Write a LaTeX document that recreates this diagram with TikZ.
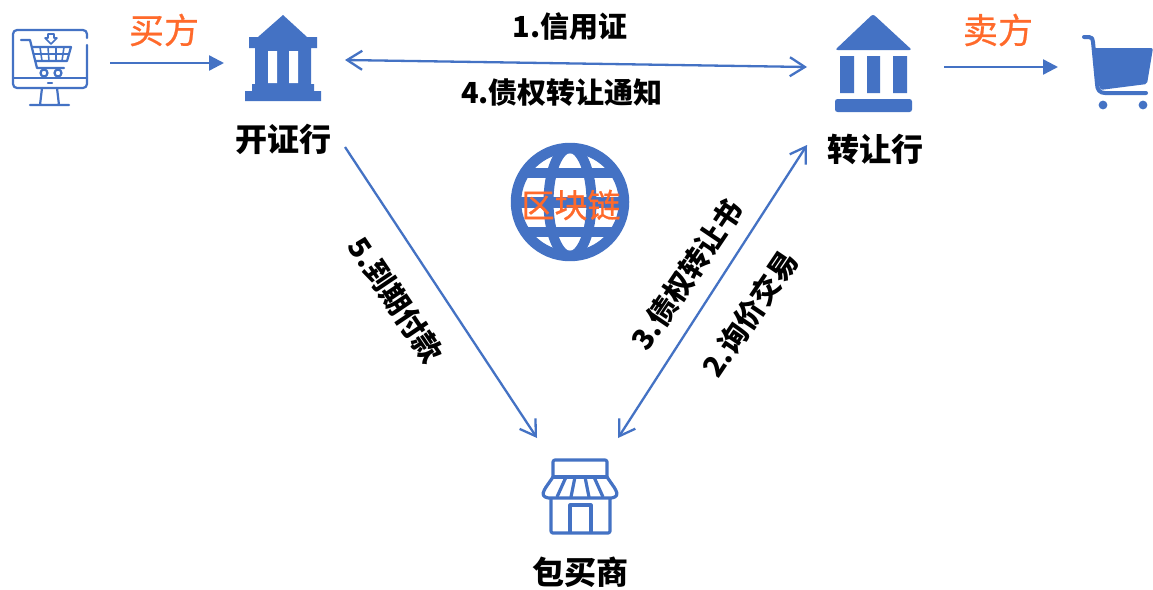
\documentclass[tikz,border=0pt]{standalone}
\usepackage{fontspec}
\usepackage{tikz}
\usetikzlibrary{arrows.meta}
\newfontfamily\cjk{Noto Sans CJK SC}
\newfontfamily\cjktag[FakeBold=0.6]{Noto Sans CJK SC}
\definecolor{iconblue}{HTML}{4472C4}
\definecolor{tagorange}{HTML}{FF6A2B}

\begin{document}
\begin{tikzpicture}[x=1pt,y=-1pt,line join=round,
    barb/.tip={Straight Barb[length=15pt,width=19pt,line width=2.3pt]},
    iconbox/.style={minimum width=#1,inner sep=0pt,outer sep=0pt},
    party/.style={font=\cjk\bfseries\fontsize{32}{34}\selectfont,inner sep=0pt},
    tag/.style={font=\cjktag\fontsize{35}{37}\selectfont,text=tagorange,inner sep=0pt},
    step label/.style={font=\cjk\bfseries\fontsize{29}{31}\selectfont,inner sep=0pt},
    link/.style={draw=iconblue,line width=2.3pt},
    flow/.style={draw=iconblue,line width=2.4pt,-{Triangle[length=15pt,width=15pt]}},
    thin icon/.style={draw=iconblue,line width=2.2pt,line cap=round}]
       \useasboundingbox (0,0) rectangle (1153,589);
       \fill[white] (0,0) rectangle (1153,589);

       % invisible boxes round the icons, the connectors start at their anchors
       \node[iconbox=121pt] (pc)    at (49.5,63)  {};
       \node[iconbox=121pt,minimum height=174pt] (bankA) at (284.5,60) {};
       \node[iconbox=137pt,minimum height=156pt] (bankB) at (875.5,67) {};
       \node[iconbox=114pt] (cart)  at (1115,67)  {};
       \node[iconbox=81pt,minimum height=114pt]  (shop)  at (577.5,495) {};

       % computer with cart
       \draw[thin icon,rounded corners=4pt] (87,38) -- (87,30) -- (13,30) -- (13,88) -- (87,88) -- (87,45);
       \draw[thin icon] (13,78) -- (87,78);
       \draw[thin icon] (48,83) -- (52,83);
       \draw[thin icon] (42,88) -- (40,105) (57,88) -- (59,105) (30,105) -- (69,105);
       \draw[thin icon] (21,40) -- (30,40) -- (37,68) -- (64,68);
       \draw[thin icon] (32,47) -- (71,47) -- (67,61) -- (35.5,61);
       \draw[iconblue,line width=1.6pt] (33.5,54) -- (69,54) (40,47) -- (42,61) (48,47) -- (49,61)
             (56,47) -- (56,61) (64,47) -- (62,61);
       \draw[thin icon] (44,73) circle (3.5) (58,73) circle (3.5);
       \draw[iconblue,line width=1.6pt] (48,34) -- (54,34) -- (54,38) -- (57,38) -- (51,44) -- (45,38) -- (48,38) -- cycle;

       % issuing bank
       \fill[iconblue] (283,15) -- (307,37) -- (317,37) -- (317,48) -- (311,48) -- (311,84) -- (314,84) -- (314,91)
             -- (321,91) -- (321,101) -- (245,101) -- (245,91) -- (252,91) -- (252,84) -- (255,84) -- (255,48)
             -- (249,48) -- (249,37) -- (258,37) -- cycle;
       \fill[white] (268,51) rectangle (277,83) (289,51) rectangle (298,83);

       % transferring bank
       \fill[iconblue,rounded corners=2.5pt] (873,14) -- (912,50) -- (835,50) -- cycle;
       \fill[iconblue] (840,56) rectangle (854,93) (867,56) rectangle (880,93) (893,56) rectangle (907,93);
       \fill[iconblue,rounded corners=2.5pt] (835,99) rectangle (912,112);

       % plain cart
       \draw[iconblue,line width=4pt,line cap=round] (1084,37) -- (1089,37) .. controls (1092,37) and (1093,39) .. (1093,42)
             -- (1097,84) .. controls (1097,90) and (1100,93) .. (1105,93) -- (1146,93);
       \fill[iconblue,rounded corners=2pt] (1092,48) -- (1153,48) -- (1147,84) -- (1100,90) -- cycle;
       \fill[iconblue] (1103,105) circle (4.4) (1143,105) circle (4.4);

       % globe
       \draw[iconblue,line width=10.5pt] (570,202) circle (54);
       \draw[iconblue,line width=10pt] (570,202) ellipse (21.5 and 54);
       \draw[iconblue,line width=10.5pt] (525,173) -- (615,173) (516,202.5) -- (624,202.5) (525,232) -- (615,232);

       % shop
       \begin{scope}[iconblue,line width=3.2pt]
       \draw[rounded corners=2pt] (553,477) -- (553,460) -- (607,460) -- (607,477);
       \draw (553,477) -- (607,477);
       \draw[rounded corners=3pt] (553,477) -- (544,490) .. controls (542,497) and (548,498) .. (552,498) -- (608,498)
             .. controls (612,498) and (618,497) .. (616,490) -- (607,477);
       \draw (566,477) -- (557,497) (575,477) -- (571,497) (585,477) -- (589,497)
             (594,477) -- (603,497);
       \draw[rounded corners=2pt] (551,498) -- (551,533) -- (610,533) -- (610,498);
       \draw (570,533) -- (570,505) -- (591,505) -- (591,533);
       \end{scope}

       % texts
       \node[tag]   (buyer)  at (164,30)  {买方};
       \node[tag]   (seller) at (998,30)  {卖方};
       \node[tag,font=\cjktag\fontsize{33}{35}\selectfont] (chain) at (571,205) {区块链};
       \node[party] (issuer) at (283,139) {开证行};
       \node[party] (transfer) at (875,149) {转让行};
       \node[party] (factor) at (580,572) {包买商};
       \node[step label] (credit) at (570,27)  {1.信用证};
       \node[step label] (notice) at (562,93)  {4.债权转让通知};
       \node[step label,rotate=-56] (repay) at (396,300) {5.到期付款};
       \node[step label,rotate=56]  (assign) at (687,275) {3.债权转让书};
       \node[step label,rotate=56]  (quote) at (750,314) {2.询价交易};

       \path[link]
       (bankA.east) edge [barb-barb] (bankB.west)
       (bankB.south west) edge [barb-barb] (shop.north east)
       (bankA.south east) edge [-barb] (shop.north west);
       \draw[flow] (pc.east) -- (pc.east -| bankA.west);
       \draw[flow] (bankB.east) -- (cart.west);
     \end{tikzpicture}
\end{document}
